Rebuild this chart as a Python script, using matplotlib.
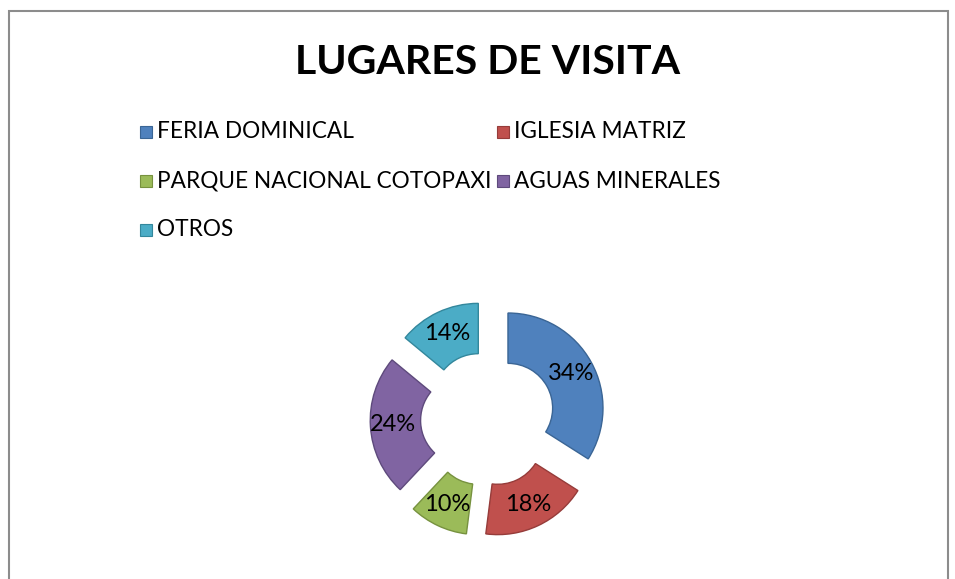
# ============================================================
# Donut chart: LUGARES DE VISITA
# ============================================================

import matplotlib
matplotlib.use("Agg")
import matplotlib.pyplot as plt
from matplotlib.patches import Rectangle

# ------------------------------------------------------------
# Data
# ------------------------------------------------------------

categories = [
    "FERIA DOMINICAL",
    "IGLESIA MATRIZ",
    "PARQUE NACIONAL COTOPAXI",
    "AGUAS MINERALES",
    "OTROS",
]
shares = [34, 18, 10, 24, 14]
colors = ["#4F81BD", "#C0504D", "#9BBB59", "#8064A2", "#4BACC6"]
edges = ["#3A6595", "#963C3A", "#77923F", "#5E4A7C", "#33879C"]

title = "LUGARES DE VISITA"

W, H = 955, 579
plt.rcParams["font.family"] = ["Lato", "DejaVu Sans"]

fig = plt.figure(figsize=(W / 100, H / 100), dpi=100)
fig.patch.set_facecolor("white")

# chart frame (bottom runs past the image)
fig.patches.append(
    Rectangle(
        (8.5 / W, -0.05),
        (948 - 8.5) / W,
        1 - 10.5 / H + 0.05,
        transform=fig.transFigure,
        fill=False,
        edgecolor="#8c8c8c",
        linewidth=1.5,
    )
)

fig.text(488 / W, 1 - 62 / H, title, ha="center", va="center",
         fontsize=29.5, fontweight="bold", color="black")

# ------------------------------------------------------------
# Legend drawn row by row, two columns
# ------------------------------------------------------------

col_x = [140, 497]
for i, (name, color, edge) in enumerate(zip(categories, colors, edges)):
    row, col = divmod(i, 2)
    x = col_x[col]
    y = 132 + row * 49
    fig.patches.append(
        Rectangle(
            (x / W, 1 - (y + 6) / H),
            12 / W,
            12 / H,
            transform=fig.transFigure,
            facecolor=color,
            edgecolor=edge,
            linewidth=0.8,
        )
    )
    fig.text((x + 17) / W, 1 - y / H, name, ha="left", va="center",
             fontsize=16.3, color="black")

# ------------------------------------------------------------
# Exploded donut
# ------------------------------------------------------------

scale = 95.0  # pixels per radius unit
cx, cy = 488, 419
half = 1.4
ax = fig.add_axes([
    (cx - half * scale) / W,
    (H - cy - half * scale) / H,
    2 * half * scale / W,
    2 * half * scale / H,
])

wedges, _, autotexts = ax.pie(
    shares,
    colors=colors,
    startangle=90,
    counterclock=False,
    explode=[0.24] * len(shares),
    radius=1.0,
    autopct="%1.0f%%",
    pctdistance=0.76,
    wedgeprops=dict(width=0.53, linewidth=1.0),
    textprops=dict(fontsize=17, color="black"),
)

for w, edge in zip(wedges, edges):
    w.set_edgecolor(edge)

ax.set_xlim(-half, half)
ax.set_ylim(-half, half)
ax.set_aspect("equal")
ax.axis("off")

fig.savefig("out.png", dpi=100, facecolor="white")
